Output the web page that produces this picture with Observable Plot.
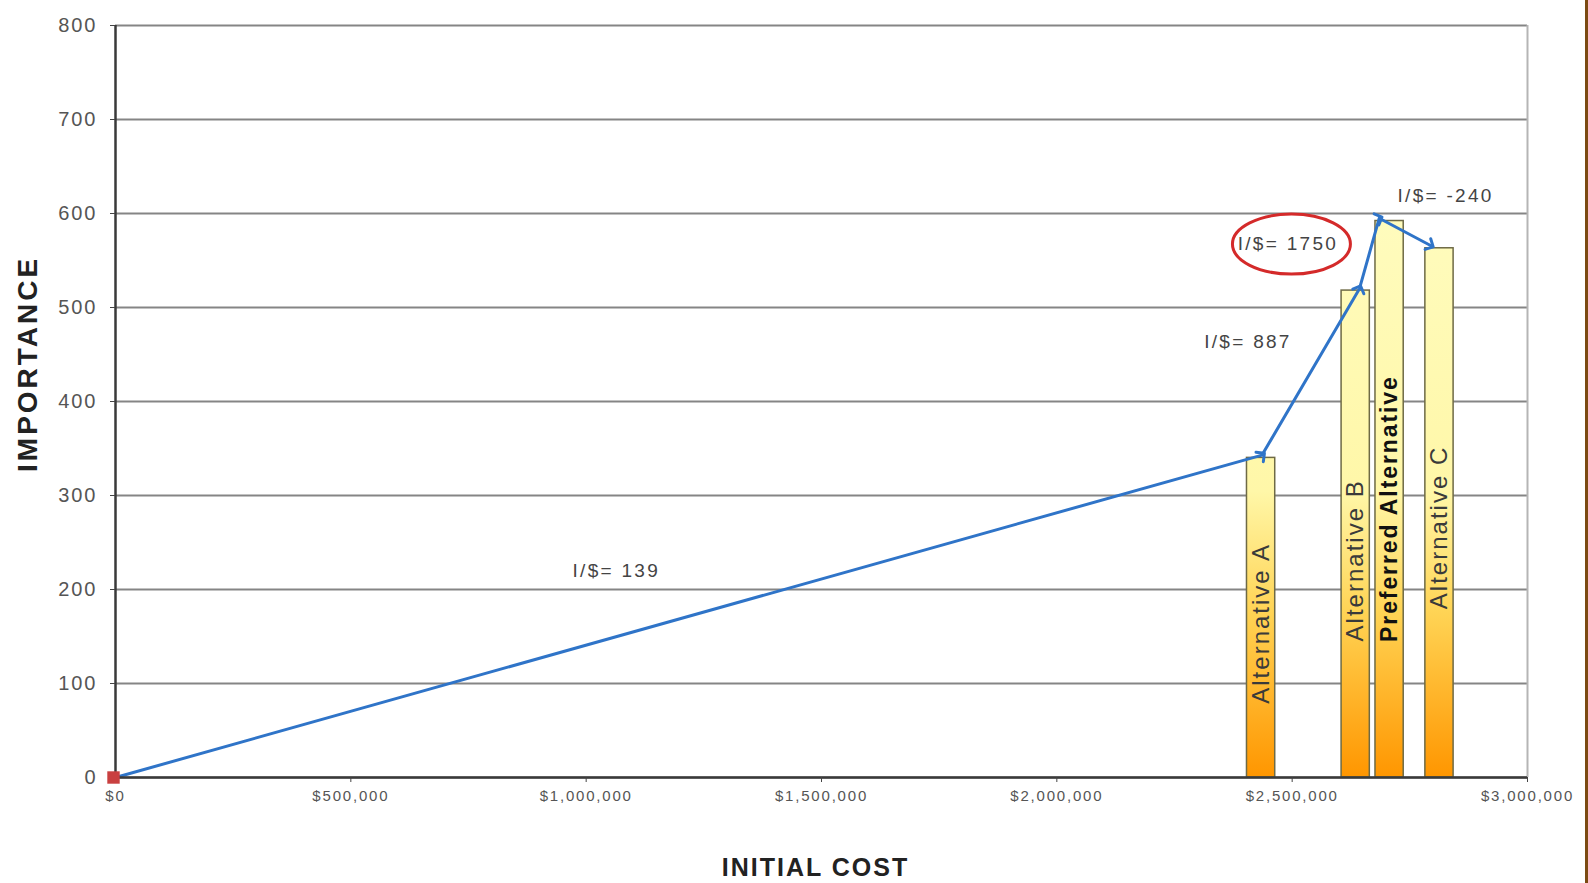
<!DOCTYPE html>
<html>
<head>
<meta charset="utf-8">
<script src="https://cdn.jsdelivr.net/npm/d3@7"></script>
<script src="https://cdn.jsdelivr.net/npm/@observablehq/plot@0.6"></script>
<style>
  html, body { margin: 0; padding: 0; background: #fff; }
  #wrap { position: relative; width: 1588px; height: 883px; overflow: hidden; }
  #strip { position: absolute; right: 0; top: 0; width: 3px; height: 883px; background: #7b4a12; }
  svg { font-family: "Liberation Sans", Arial, sans-serif; }
</style>
</head>
<body>
<div id="wrap"><div id="strip"></div></div>
<script>
// Bars (alternatives)
const barNames = ["Alternative A", "Alternative B", "Preferred Alternative", "Alternative C"];
const barCost = [2434000, 2635000, 2707000, 2813000];
const barImportance = [340, 518, 592, 563];
const barLabelY = [164, 231, 286, 266];

// Incremental line
const lineCost = [0, 2436000, 2643000, 2685000, 2794000];
const lineImportance = [0, 343, 520, 595, 566];

// Annotations
const annText = ["I/$= 139", "I/$= 887", "I/$= 1750", "I/$= -240"];
const annCost = [1064000, 2406000, 2491000, 2826000];
const annImportance = [220, 463, 568, 619];

// Axis ticks and titles
const xTicks = [0, 500000, 1000000, 1500000, 2000000, 2500000, 3000000];
const yTicks = [0, 100, 200, 300, 400, 500, 600, 700, 800];
const yTitle = "IMPORTANCE";
const xTitle = "INITIAL COST";

const barHalf = 30000;
const bars = barNames.map((name, i) => ({name, x1: barCost[i] - barHalf, x2: barCost[i] + barHalf, cx: barCost[i], y: barImportance[i], ly: barLabelY[i], bold: name.startsWith("Preferred")}));
const linePts = lineCost.map((c, i) => ({x: c, y: lineImportance[i]}));
const anns = annText.map((t, i) => ({t, x: annCost[i], y: annImportance[i]}));

const gradient = () => {
  const defs = d3.create("svg:defs");
  const g = defs.append("linearGradient").attr("id", "barGrad")
    .attr("gradientUnits", "userSpaceOnUse").attr("x1", 0).attr("y1", 25).attr("x2", 0).attr("y2", 777);
  g.append("stop").attr("offset", "0").attr("stop-color", "#ffffcc");
  g.append("stop").attr("offset", "0.62").attr("stop-color", "#fff7a8");
  g.append("stop").attr("offset", "0.78").attr("stop-color", "#ffd455");
  g.append("stop").attr("offset", "1").attr("stop-color", "#ff9600");
  return defs.node();
};

const ellipse = (index, scales) => {
  const cx = scales.x(annCost[2]) + 4;
  const cy = scales.y(annImportance[2]) + 1;
  const e = d3.create("svg:ellipse").attr("cx", cx).attr("cy", cy).attr("rx", 59).attr("ry", 30)
    .attr("fill", "none").attr("stroke", "#d42a2a").attr("stroke-width", 3);
  return e.node();
};

const chart = Plot.plot({
  width: 1588,
  height: 883,
  marginLeft: 115,
  marginRight: 61,
  marginTop: 25,
  marginBottom: 106,
  style: {fontFamily: "'Liberation Sans', Arial, sans-serif", background: "transparent"},
  x: {domain: [0, 3000000]},
  y: {domain: [0, 800]},
  marks: [
    gradient,
    Plot.gridY(yTicks, {stroke: "#858585", strokeOpacity: 1, strokeWidth: 2.2}),
    Plot.ruleX([3000000], {stroke: "#b5b5b5", strokeWidth: 2}),
    Plot.rect(bars, {x1: "x1", x2: "x2", y1: 0, y2: "y", fill: "url(#barGrad)", stroke: "#6e6a45", strokeWidth: 1.5}),
    Plot.line(linePts, {x: "x", y: "y", stroke: "#2f74c8", strokeWidth: 3, markerMid: "arrow", markerEnd: "arrow"}),
    Plot.ruleY([0], {stroke: "#3a3a3a", strokeWidth: 2.5}),
    Plot.ruleX([0], {stroke: "#3a3a3a", strokeWidth: 2.5}),
    Plot.axisX(xTicks, {tickSize: 5, tickPadding: 8, fontSize: 15, fill: "#555", stroke: "#444", tickFormat: d => "$" + d3.format(",")(d), label: null}),
    Plot.axisY(yTicks, {tickSize: 5, tickPadding: 13, fontSize: 20, fill: "#555", stroke: "#444", label: null}),
    Plot.dot([linePts[0]], {x: "x", y: "y", symbol: "square", r: 7, fill: "#c94040", dx: -2}),
    Plot.text(bars.filter(d => !d.bold), {x: "cx", y: "ly", text: "name", rotate: -90, textAnchor: "middle",
      fontSize: 24, fill: "#3a3a3a"}),
    Plot.text(bars.filter(d => d.bold), {x: "cx", y: "ly", text: "name", rotate: -90, textAnchor: "middle",
      fontSize: 23, fill: "#111", fontWeight: "bold"}),
    Plot.text(anns, {x: "x", y: "y", text: "t", fontSize: 19, fill: "#444"}),
    ellipse,
    Plot.text([yTitle], {x: -185000, y: 440, rotate: -90, fontSize: 28, fontWeight: "bold", fill: "#222"}),
    Plot.text([xTitle], {frameAnchor: "bottom", dx: -6, dy: 98, fontSize: 25, fontWeight: "bold", fill: "#222"})
  ]
});
// Stretch letters to match the wide rendering of the original
const spacing = {15: 1.8, 20: 2, 19: 2.3, 24: 2, 23: 1.9, 28: 3, 25: 2};
document.getElementById("wrap").appendChild(chart);
d3.select(chart).selectAll("text").each(function() {
  const fs = Math.round(parseFloat(getComputedStyle(this).fontSize));
  if (spacing[fs] != null) this.style.letterSpacing = spacing[fs] + "px";
});
</script>
</body>
</html>
